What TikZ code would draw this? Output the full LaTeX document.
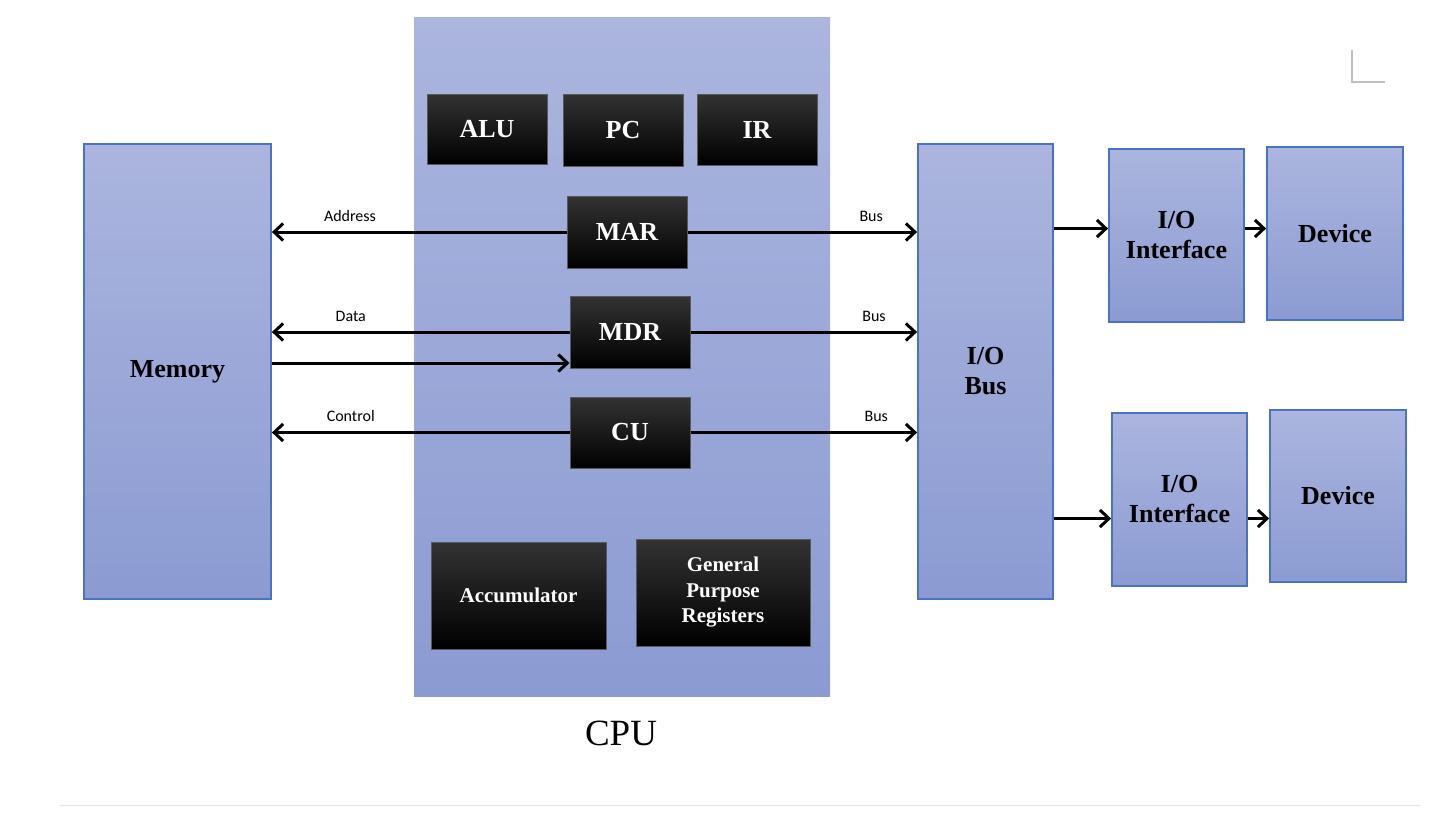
\documentclass[tikz,border=0pt]{standalone}
\usepackage{fontspec}
\setmainfont{Liberation Serif}
\newfontfamily\busfont{Carlito}
\usepackage{tikz}
\usetikzlibrary{arrows.meta}
\definecolor{unitTop}{RGB}{171,181,222}
\definecolor{unitBot}{RGB}{139,155,210}
\definecolor{unitEdge}{RGB}{72,114,196}

\begin{document}
\begin{tikzpicture}[x=1pt,y=-1pt,>={Straight Barb[length=9pt,width=17pt]},
  unit/.style={draw=unitEdge,line width=1.8pt,top color=unitTop,bottom color=unitBot,
    font=\fontsize{26}{30}\selectfont\bfseries,align=center,inner sep=0pt},
  reg/.style={draw=black!65,line width=1pt,top color=black!80,middle color=black,bottom color=black,
    text=white,font=\fontsize{26}{30}\selectfont\bfseries,align=center,inner sep=0pt},
  wire/.style={->,line width=3pt},
  tag/.style={font=\busfont\fontsize{16}{18}\selectfont,inner sep=0pt}]
  \useasboundingbox (0,0) rectangle (1440,828);
  \draw[black!25,line width=1.2pt] (1352,50) -- (1352,82) -- (1385,82);
  \draw[black!10,line width=1pt] (60,805) -- (1420,805);
  % CPU and its registers
  \node[top color=unitTop,bottom color=unitBot,minimum width=416pt,minimum height=679pt] (cpu) at (622,356.5) {};
  \node[font=\fontsize{37}{40}\selectfont] (cpuname) at (621,733) {CPU};
  \node[reg,minimum width=120pt,minimum height=70pt] (alu) at (487,129) {ALU};
  \node[reg,minimum width=120pt,minimum height=72pt] (pc) at (623,130) {PC};
  \node[reg,minimum width=120pt,minimum height=71pt] (ir) at (757,129.5) {IR};
  \node[reg,minimum width=120pt,minimum height=72pt] (mar) at (627,232) {MAR};
  \node[reg,minimum width=120pt,minimum height=72pt] (mdr) at (630,332) {MDR};
  \node[reg,minimum width=120pt,minimum height=71pt] (cu) at (630,432.5) {CU};
  \node[reg,minimum width=175pt,minimum height=107pt,font=\fontsize{21}{25.5}\selectfont\bfseries] (acc) at (518.5,595.5) {Accumulator};
  \node[reg,minimum width=174pt,minimum height=107pt,font=\fontsize{21}{25.5}\selectfont\bfseries] (gpr) at (723,592.5) {General\\Purpose\\Registers};
  % memory and i/o side
  \node[unit,minimum width=187pt,minimum height=455pt] (mem) at (177.5,371.5) {Memory};
  \node[unit,minimum width=135pt,minimum height=455pt] (iobus) at (985.5,371.5) {I/O\\Bus};
  \node[unit,minimum width=135pt,minimum height=173pt] (if1) at (1176.5,235.5) {I/O\\Interface};
  \node[unit,minimum width=136pt,minimum height=173pt] (dev1) at (1335,233.5) {Device};
  \node[unit,minimum width=135pt,minimum height=173pt] (if2) at (1179.5,499.5) {I/O\\Interface};
  \node[unit,minimum width=136pt,minimum height=172pt] (dev2) at (1338,496) {Device};
  \coordinate (mdrin) at ([yshift=-31pt]mdr.west);
  \coordinate (ifa) at ([yshift=7pt]if1.west);
  \coordinate (ifb) at ([yshift=-19pt]if2.west);
  % connectors
  \draw[wire] (mar.west) -- (mar.west -| mem.east) node[tag,pos=0.735,above=9pt] {Address};
  \draw[wire] (mdr.west) -- (mdr.west -| mem.east) node[tag,pos=0.735,above=9pt] {Data};
  \draw[wire] (mdrin -| mem.east) -- (mdrin);
  \draw[wire] (cu.west) -- (cu.west -| mem.east) node[tag,pos=0.735,above=9pt] {Control};
  \draw[wire] (mar.east) -- (mar.east -| iobus.west) node[tag,pos=0.80,above=9pt] {Bus};
  \draw[wire] (mdr.east) -- (mdr.east -| iobus.west) node[tag,pos=0.81,above=9pt] {Bus};
  \draw[wire] (cu.east) -- (cu.east -| iobus.west) node[tag,pos=0.82,above=9pt] {Bus};
  \draw[wire] (ifa -| iobus.east) -- (ifa);
  \draw[wire] (ifa -| if1.east) -- (ifa -| dev1.west);
  \draw[wire] (ifb -| iobus.east) -- (ifb);
  \draw[wire] (ifb -| if2.east) -- (ifb -| dev2.west);
\end{tikzpicture}
\end{document}
